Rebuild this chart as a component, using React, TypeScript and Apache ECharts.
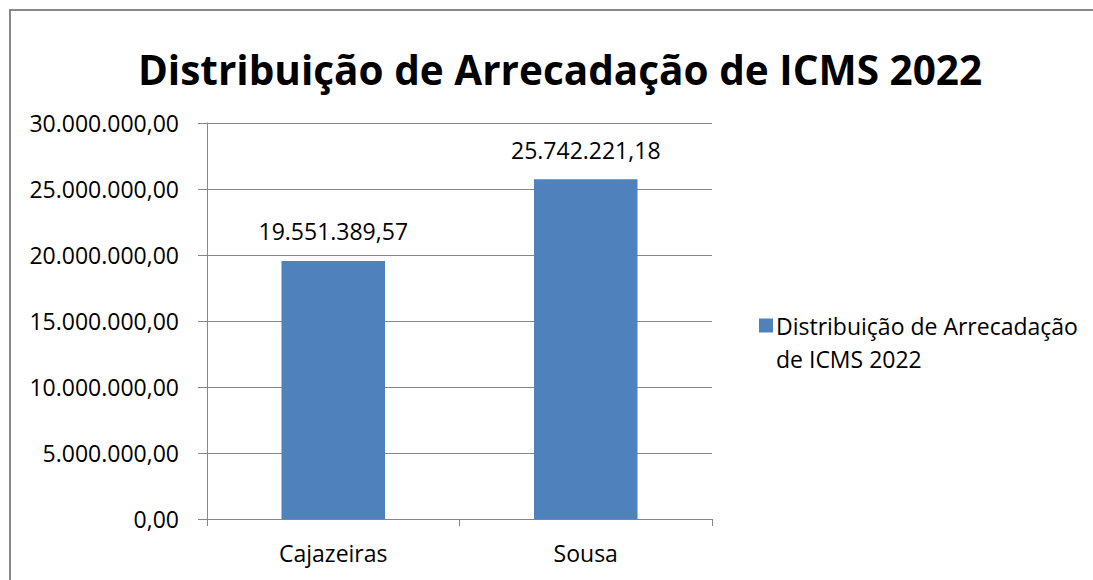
import React, { useEffect, useRef } from "react";
import * as echarts from "echarts";

const categories = ["Cajazeiras", "Sousa"];
const values = [19551389.57, 25742221.18];
const seriesName = "Distribuição de Arrecadação de ICMS 2022";
const titleText = "Distribuição de Arrecadação de ICMS 2022";
const legendLine1 = "Distribuição de Arrecadação";
const legendLine2 = "de ICMS 2022";

function fmt(v: number): string {
  const fixed = Math.abs(v).toFixed(2);
  const [intPart, dec] = fixed.split(".");
  const withDots = intPart.replace(/\B(?=(\d{3})+(?!\d))/g, ".");
  return (v < 0 ? "-" : "") + withDots + "," + dec;
}

const FONT = "'Open Sans', 'Noto Sans', sans-serif";
const FS = 23;

export default function App() {
  const ref = useRef<HTMLDivElement>(null);
  useEffect(() => {
    if (!ref.current) return;
    const chart = echarts.init(ref.current, undefined, { renderer: "svg" });
    chart.setOption({
      animation: false,
      backgroundColor: "#ffffff",
      title: {
        text: titleText,
        left: 555,
        textAlign: "center",
        top: 44,
        textStyle: { fontFamily: FONT, fontSize: 40.5, fontWeight: "bold", color: "#000" },
      },
      legend: {
        show: true,
        left: 754,
        top: 309,
        itemWidth: 14,
        itemHeight: 14,
        itemGap: 0,
        icon: "rect",
        formatter: () => legendLine1,
        textStyle: { fontFamily: FONT, fontSize: FS, color: "#000", padding: [0, 0, 0, -2] },
        data: [seriesName],
      },
      graphic: [
        {
          type: "rect",
          shape: { x: 10, y: 10, width: 1200, height: 700 },
          style: { fill: "none", stroke: "#888888", lineWidth: 2 },
          silent: true,
        },
        {
          type: "text",
          x: 776,
          y: 359,
          style: { text: legendLine2, fontFamily: FONT, fontSize: FS, fill: "#000", verticalAlign: "middle", align: "left" },
        },
      ],
      grid: { left: 207, right: 381, top: 123, bottom: 61, containLabel: false },
      xAxis: {
        type: "category",
        data: categories,
        axisLine: { lineStyle: { color: "#868686", width: 1 } },
        axisTick: { show: true, length: 7, lineStyle: { color: "#868686" } },
        axisLabel: { fontFamily: FONT, fontSize: FS, color: "#000", margin: 22 },
      },
      yAxis: {
        type: "value",
        min: 0,
        max: 30000000,
        interval: 5000000,
        axisLine: { show: true, lineStyle: { color: "#868686", width: 1 } },
        axisTick: { show: true, length: 9, lineStyle: { color: "#868686" } },
        splitLine: { show: true, lineStyle: { color: "#868686", width: 1 } },
        axisLabel: { fontFamily: FONT, fontSize: FS, color: "#000", margin: 28, formatter: (v: number) => fmt(v) },
      },
      series: [
        {
          name: seriesName,
          type: "bar",
          data: values,
          barCategoryGap: "59%",
          itemStyle: { color: "#4F81BD" },
          label: {
            show: true,
            position: "top",
            distance: 18,
            fontFamily: FONT,
            fontSize: FS,
            color: "#000",
            formatter: (p: any) => fmt(p.value),
          },
        },
      ],
    });
    return () => chart.dispose();
  }, []);
  return (
    <div
      ref={ref}
      style={{ position: "fixed", left: 0, top: 0, width: 1093, height: 580 }}
    />
  );
}
